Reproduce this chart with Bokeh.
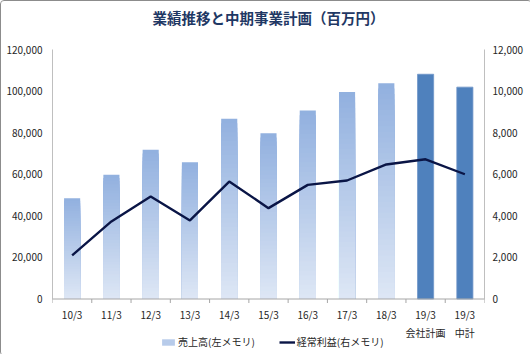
import numpy as np
from bokeh.plotting import figure
from bokeh.models import (Range1d, LinearAxis, SingleIntervalTicker, Span, Label,
                          NumeralTickFormatter, Legend, LegendItem)
from bokeh.core.properties import value
from bokeh.embed import file_html
from bokeh.resources import INLINE

# ---- data ----
categories = ["10/3", "11/3", "12/3", "13/3", "14/3", "15/3", "16/3", "17/3", "18/3",
              "19/3\n会社計画", "19/3\n中計"]
sales = [48500, 59700, 71800, 65800, 86700, 79700, 90700, 99500, 103800, 108100, 101900]
plan_flag = [0, 0, 0, 0, 0, 0, 0, 0, 0, 1, 1]
profit = [2100, 3730, 4930, 3780, 5650, 4370, 5490, 5700, 6470, 6720, 6000]
left_max = 120000
right_max = 12000
title_text = "業績推移と中期事業計画（百万円）"

FONT = "Noto Sans CJK JP"
n = len(categories)
xs = [float(i) + 0.5 for i in range(n)]
bounds = [float(i) for i in range(n + 1)]

# layout (pixels): plot band from y=48 (max) to y=297.5 (zero) in a 354px-high frame
H = 354
px_top_val, px_zero = 48.0, 297.5
per_px = left_max / (px_zero - px_top_val)          # data units per pixel (left axis)
def ypix(py):                                       # pixel row -> left-axis data value
    return (px_zero - py) * per_px
y0, y1 = ypix(H), ypix(0)

p = figure(frame_width=432, frame_height=H, output_backend="svg", toolbar_location=None,
           x_range=Range1d(0, n), y_range=Range1d(y0, y1),
           min_border_left=51, min_border_right=47, min_border_top=0, min_border_bottom=0,
           x_axis_type=None, y_axis_type=None)
p.outline_line_color = None
p.xgrid.visible = False
p.ygrid.visible = False
p.background_fill_color = "white"
p.border_fill_color = "white"
p.styles = {"border": "1px solid #8c8c8c", "border-radius": "4px", "box-sizing": "border-box"}

p.extra_y_ranges = {"r": Range1d(y0 * right_max / left_max, y1 * right_max / left_max)}

# gradient bars (stacked from 0 upward, tallest first)
N = 40
top_c = np.array([145, 176, 223])
bot_c = np.array([222, 231, 245])
grad_x = [x for x, f in zip(xs, plan_flag) if f == 0]
grad_v = [v for v, f in zip(sales, plan_flag) if f == 0]
legend_bar = None
for k in range(N - 1, -1, -1):
    t = (k + 0.5) / N
    c = bot_c + (top_c - bot_c) * t
    col = "#%02x%02x%02x" % tuple(int(round(v)) for v in c)
    r = p.vbar(x=grad_x, top=[v * (k + 1) / N for v in grad_v], bottom=0, width=0.41,
               fill_color=col, line_color=None)
    if k == N // 2:
        legend_bar = r

plan_x = [x for x, f in zip(xs, plan_flag) if f == 1]
plan_v = [v for v, f in zip(sales, plan_flag) if f == 1]
p.vbar(x=plan_x, top=plan_v, bottom=0, width=0.41, fill_color="#4F81BD",
       line_color="#6f95c8", line_width=0.8)

line_r = p.line(xs, profit, y_range_name="r", line_color="#0A1546", line_width=2.4)

lab_color = "#262626"

# category axis at zero
p.add_layout(Span(location=0, dimension="width", line_color="#a6a6a6", line_width=1))
p.segment(x0=bounds, y0=[0] * len(bounds), x1=bounds, y1=[-4 * per_px] * len(bounds),
          line_color="#a6a6a6", line_width=1)
p.text(x=xs, y=[0] * n, text=categories, y_offset=8, text_align="center",
       text_baseline="top", text_font=value(FONT), text_font_size="10px",
       text_color=lab_color, text_line_height=1.2)

# value axes
ya = LinearAxis(ticker=SingleIntervalTicker(interval=20000, num_minor_ticks=0),
                formatter=NumeralTickFormatter(format="0,0"), bounds=(0, left_max))
ya_r = LinearAxis(y_range_name="r", ticker=SingleIntervalTicker(interval=2000, num_minor_ticks=0),
                  formatter=NumeralTickFormatter(format="0,0"), bounds=(0, right_max))
for a in (ya, ya_r):
    a.major_tick_in = 0
    a.major_tick_out = 0
    a.minor_tick_in = 0
    a.minor_tick_out = 0
    a.axis_line_color = "#bfbfbf"
    a.major_label_text_font = FONT
    a.major_label_text_font_size = "10px"
    a.major_label_text_color = lab_color
ya.major_label_standoff = 10
ya_r.major_label_standoff = 8
p.add_layout(ya, "left")
p.add_layout(ya_r, "right")

# title
p.add_layout(Label(x=n / 2, y=ypix(16), text=title_text, text_align="center",
                   text_baseline="middle", text_font=FONT, text_font_size="14.5px",
                   text_font_style="bold", text_color="#1F3864"))

legend = Legend(items=[LegendItem(label="売上高(左メモリ)", renderers=[legend_bar]),
                       LegendItem(label="経常利益(右メモリ)", renderers=[line_r])],
                orientation="horizontal", location=(108, 6),
                label_text_font=FONT, label_text_font_size="10px", label_text_color=lab_color,
                label_height=12, glyph_width=16, glyph_height=8, label_standoff=2, spacing=24,
                padding=0, margin=0, border_line_color=None, background_fill_alpha=0)
p.add_layout(legend, "center")

open("out.html", "w").write(file_html(p, INLINE))
